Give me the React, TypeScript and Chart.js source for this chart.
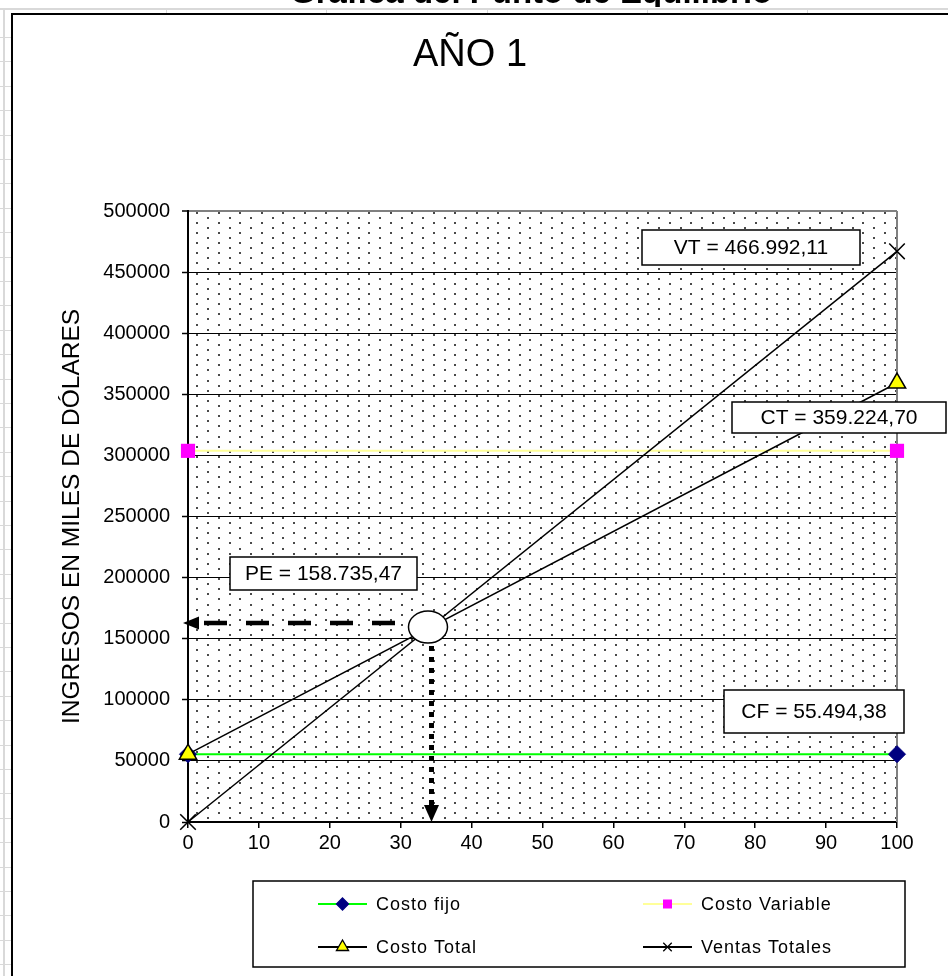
import React, { useEffect, useRef } from 'react';
import { Chart, registerables } from 'chart.js';

Chart.register(...registerables);

// ---------- data ----------
const X_POINTS = [0, 100];
const COSTO_FIJO = [55494.38, 55494.38];
const COSTO_VARIABLE = [303730.32, 303730.32];
const COSTO_TOTAL = [55494.38, 359224.7];
const VENTAS_TOTALES = [0, 466992.11];
const PUNTO_EQUILIBRIO = 158735.47;

const SERIES_NAMES = ['Costo fijo', 'Costo Variable', 'Costo Total', 'Ventas Totales'];
const X_MIN = 0;
const X_MAX = 100;
const X_STEP = 10;
const Y_MIN = 0;
const Y_MAX = 500000;
const Y_STEP = 50000;

const SHEET_TITLE = 'Gráfica del Punto de Equilibrio';
const CHART_TITLE = 'AÑO 1';
const Y_TITLE = 'INGRESOS EN MILES DE DÓLARES';

const FONT = '"Liberation Sans", Arial, Helvetica, sans-serif';

function fmtES(v: number): string {
  const [i, d] = v.toFixed(2).split('.');
  return i.replace(/\B(?=(\d{3})+(?!\d))/g, '.') + ',' + d;
}

const BOX_LABELS = [
  { text: 'VT = ' + fmtES(VENTAS_TOTALES[1]), rect: [642, 230, 218, 35] },
  { text: 'CT = ' + fmtES(COSTO_TOTAL[1]), rect: [732, 402, 214, 31] },
  { text: 'PE = ' + fmtES(PUNTO_EQUILIBRIO), rect: [230, 557, 187, 33] },
  { text: 'CF = ' + fmtES(COSTO_FIJO[1]), rect: [724, 690, 180, 43] },
];

function drawMarker(ctx: CanvasRenderingContext2D, style: string, x: number, y: number, r: number, fill: string, stroke: string, lw: number) {
  ctx.save();
  ctx.fillStyle = fill;
  ctx.strokeStyle = stroke;
  ctx.lineWidth = lw;
  ctx.beginPath();
  if (style === 'rectRot') {
    ctx.moveTo(x, y - r);
    ctx.lineTo(x + r, y);
    ctx.lineTo(x, y + r);
    ctx.lineTo(x - r, y);
    ctx.closePath();
    ctx.fill();
    ctx.stroke();
  } else if (style === 'rect') {
    ctx.rect(x - r, y - r, 2 * r, 2 * r);
    ctx.fill();
  } else if (style === 'triangle') {
    ctx.moveTo(x, y - r);
    ctx.lineTo(x + r * 0.866, y + r / 2);
    ctx.lineTo(x - r * 0.866, y + r / 2);
    ctx.closePath();
    ctx.fill();
    ctx.stroke();
  } else if (style === 'crossRot') {
    const o = r * 0.7071;
    ctx.moveTo(x - o, y - o);
    ctx.lineTo(x + o, y + o);
    ctx.moveTo(x - o, y + o);
    ctx.lineTo(x + o, y - o);
    ctx.stroke();
  }
  ctx.restore();
}

const backgroundPlugin = {
  id: 'sheetBackground',
  beforeDraw(chart: any) {
    const ctx: CanvasRenderingContext2D = chart.ctx;
    const W = chart.width;
    const H = chart.height;
    ctx.save();
    ctx.fillStyle = '#ffffff';
    ctx.fillRect(0, 0, W, H);

    // cut sheet title (only its lowest pixels are visible above the chart object)
    ctx.fillStyle = '#000';
    ctx.font = 'bold 33px ' + FONT;
    ctx.textAlign = 'left';
    ctx.textBaseline = 'alphabetic';
    ctx.fillText(SHEET_TITLE, 290, 2.5);

    // spreadsheet cells behind the chart object
    ctx.fillStyle = '#ffffff';
    ctx.fillRect(0, 7, W, H);
    ctx.strokeStyle = '#d9d9d9';
    ctx.lineWidth = 2;
    ctx.beginPath();
    ctx.moveTo(0, 9);
    ctx.lineTo(W, 9);
    ctx.moveTo(4, 9);
    ctx.lineTo(4, H);
    ctx.stroke();
    ctx.lineWidth = 1;
    ctx.beginPath();
    [166, 326, 487, 647, 807].forEach((x) => {
      ctx.moveTo(x + 0.5, 9);
      ctx.lineTo(x + 0.5, 14);
    });
    for (let y = 37; y < H; y += 24.4) {
      ctx.moveTo(0, Math.round(y) + 0.5);
      ctx.lineTo(11, Math.round(y) + 0.5);
    }
    ctx.stroke();

    // chart object frame
    ctx.fillStyle = '#ffffff';
    ctx.fillRect(12, 14, W, H);
    ctx.strokeStyle = '#000';
    ctx.lineWidth = 2;
    ctx.beginPath();
    ctx.moveTo(12, H);
    ctx.lineTo(12, 14);
    ctx.lineTo(W, 14);
    ctx.stroke();

    // dotted plot-area fill
    const a = chart.chartArea;
    ctx.fillStyle = '#4a4a4a';
    let j = 0;
    for (let y = a.top + 1.6; y < a.bottom - 1; y += 5.09, j++) {
      const start = j % 2 === 1 ? a.left - 1.2 : a.left + 9.3;
      for (let x = start; x < a.right - 1; x += 21.48) {
        if (x < a.left + 2) continue;
        ctx.fillRect(Math.round(x) - 1, Math.round(y) - 1, 2, 2);
      }
    }
    ctx.restore();
  },
  beforeDatasetsDraw(chart: any) {
    const ctx: CanvasRenderingContext2D = chart.ctx;
    const a = chart.chartArea;
    ctx.save();
    ctx.strokeStyle = '#808080';
    ctx.lineWidth = 2;
    ctx.beginPath();
    ctx.moveTo(a.right, a.top);
    ctx.lineTo(a.right, a.bottom);
    ctx.stroke();
    ctx.restore();
  },
};

const annotationPlugin = {
  id: 'breakEvenAnnotations',
  afterDatasetsDraw(chart: any) {
    const ctx: CanvasRenderingContext2D = chart.ctx;
    const xs = chart.scales.x;
    const ys = chart.scales.y;
    const peX = (PUNTO_EQUILIBRIO / VENTAS_TOTALES[1]) * X_POINTS[1];
    const cx = xs.getPixelForValue(peX);
    const cy = ys.getPixelForValue(PUNTO_EQUILIBRIO);
    ctx.save();

    // horizontal dashed arrow to the y axis
    const hy = cy - 5;
    ctx.strokeStyle = '#000';
    ctx.lineWidth = 4.5;
    ctx.lineCap = 'butt';
    ctx.setLineDash([23, 19]);
    ctx.beginPath();
    ctx.moveTo(cx - 34, hy);
    ctx.lineTo(xs.left + 12, hy);
    ctx.stroke();
    ctx.setLineDash([]);
    ctx.fillStyle = '#000';
    ctx.beginPath();
    ctx.moveTo(xs.left - 5, hy);
    ctx.lineTo(xs.left + 11, hy - 6.5);
    ctx.lineTo(xs.left + 11, hy + 6.5);
    ctx.closePath();
    ctx.fill();

    // vertical dotted arrow to the x axis
    const vx = cx + 2.5;
    ctx.lineWidth = 5;
    ctx.setLineDash([5, 6]);
    ctx.beginPath();
    ctx.moveTo(vx, cy + 18);
    ctx.lineTo(vx, ys.bottom - 16);
    ctx.stroke();
    ctx.setLineDash([]);
    ctx.beginPath();
    ctx.moveTo(vx - 7.5, ys.bottom - 17);
    ctx.lineTo(vx + 7.5, ys.bottom - 17);
    ctx.lineTo(vx, ys.bottom);
    ctx.closePath();
    ctx.fill();

    // break-even ellipse
    ctx.beginPath();
    ctx.ellipse(cx - 1, cy - 1, 19.5, 16, 0, 0, Math.PI * 2);
    ctx.fillStyle = '#fff';
    ctx.fill();
    ctx.lineWidth = 1.5;
    ctx.strokeStyle = '#000';
    ctx.stroke();

    // value boxes
    ctx.font = '21px ' + FONT;
    ctx.textAlign = 'center';
    ctx.textBaseline = 'middle';
    BOX_LABELS.forEach((b) => {
      const [x, y, w, h] = b.rect;
      ctx.fillStyle = '#fff';
      ctx.fillRect(x, y, w, h);
      ctx.strokeStyle = '#000';
      ctx.lineWidth = 1.5;
      ctx.strokeRect(x, y, w, h);
      ctx.fillStyle = '#000';
      ctx.fillText(b.text, x + w / 2, y + h / 2 + 1);
    });
    ctx.restore();
  },
  afterDraw(chart: any) {
    // legend box
    const ctx: CanvasRenderingContext2D = chart.ctx;
    const ds = chart.data.datasets;
    ctx.save();
    ctx.fillStyle = '#fff';
    ctx.fillRect(253, 881, 652, 86);
    ctx.strokeStyle = '#000';
    ctx.lineWidth = 1.5;
    ctx.strokeRect(253, 881, 652, 86);
    const slots = [
      [318, 904],
      [643, 904],
      [318, 947],
      [643, 947],
    ];
    const legendRadius = [6, 4.5, 7, 6];
    ctx.font = '18px ' + FONT;
    (ctx as any).letterSpacing = '1px';
    ctx.textAlign = 'left';
    ctx.textBaseline = 'middle';
    ds.forEach((d: any, i: number) => {
      const [lx, ly] = slots[i];
      ctx.strokeStyle = d.borderColor;
      ctx.lineWidth = 2;
      ctx.beginPath();
      ctx.moveTo(lx, ly);
      ctx.lineTo(lx + 49, ly);
      ctx.stroke();
      drawMarker(ctx, d.pointStyle, lx + 24.5, ly, legendRadius[i], d.pointBackgroundColor || '#000', d.pointBorderColor, 1.3);
      ctx.fillStyle = '#000';
      ctx.fillText(d.label, lx + 58, ly + 1);
    });
    ctx.restore();
  },
};

export default function App() {
  const canvasRef = useRef<HTMLCanvasElement | null>(null);

  useEffect(() => {
    document.body.style.margin = '0';
    const canvas = canvasRef.current;
    if (!canvas) return;
    Chart.defaults.font.family = FONT;
    Chart.defaults.color = '#000';

    const toPoints = (ys: number[]) => X_POINTS.map((x, i) => ({ x, y: ys[i] }));

    const chart = new Chart(canvas, {
      type: 'line',
      data: {
        datasets: [
          {
            label: SERIES_NAMES[0],
            data: toPoints(COSTO_FIJO),
            borderColor: '#00FF00',
            borderWidth: 2,
            pointStyle: 'rectRot',
            pointRadius: 8.5,
            pointBackgroundColor: '#000080',
            pointBorderColor: '#000080',
            pointBorderWidth: 1,
            order: 3,
            clip: false,
          },
          {
            label: SERIES_NAMES[1],
            data: toPoints(COSTO_VARIABLE),
            borderColor: '#FFFF99',
            borderWidth: 2,
            pointStyle: 'rect',
            pointRadius: 10,
            pointBackgroundColor: '#FF00FF',
            pointBorderColor: '#FF00FF',
            pointBorderWidth: 0,
            order: 2,
            clip: false,
          },
          {
            label: SERIES_NAMES[2],
            data: toPoints(COSTO_TOTAL),
            borderColor: '#000000',
            borderWidth: 1.5,
            pointStyle: 'triangle',
            pointRadius: 10,
            pointBackgroundColor: '#FFFF00',
            pointBorderColor: '#000000',
            pointBorderWidth: 1.5,
            order: 1,
            clip: false,
          },
          {
            label: SERIES_NAMES[3],
            data: toPoints(VENTAS_TOTALES),
            borderColor: '#000000',
            borderWidth: 1.5,
            pointStyle: 'crossRot',
            pointRadius: 11,
            pointBackgroundColor: '#000000',
            pointBorderColor: '#000000',
            pointBorderWidth: 1.5,
            order: 0,
            clip: false,
          },
        ] as any,
      },
      options: {
        responsive: false,
        animation: false,
        events: [],
        layout: { padding: { left: 43, right: 51, top: 0, bottom: 114 } },
        plugins: {
          legend: { display: false },
          tooltip: { enabled: false },
          title: {
            display: true,
            text: CHART_TITLE,
            color: '#000',
            font: { size: 38, weight: 'normal', family: FONT },
            padding: { top: 32.7, bottom: 132.7 },
          },
        },
        scales: {
          x: {
            type: 'linear',
            min: X_MIN,
            max: X_MAX,
            afterFit: (s: any) => {
              s.height = 40;
            },
            ticks: { stepSize: X_STEP, padding: 3, font: { size: 20 }, color: '#000', maxRotation: 0, callback: (v: any) => String(v) },
            grid: { drawOnChartArea: false, drawTicks: true, tickLength: 6, color: '#000', tickColor: '#000', lineWidth: 1.5 },
            border: { display: true, color: '#000', width: 2 },
          },
          y: {
            type: 'linear',
            min: Y_MIN,
            max: Y_MAX,
            afterFit: (s: any) => {
              s.width = 145;
            },
            ticks: { stepSize: Y_STEP, padding: 12, font: { size: 20 }, color: '#000', callback: (v: any) => String(v) },
            grid: {
              drawOnChartArea: true,
              drawTicks: true,
              tickLength: 6,
              color: (c: any) => (c.tick && c.tick.value === Y_MAX ? '#808080' : '#000'),
              lineWidth: (c: any) => (c.tick && c.tick.value === Y_MAX ? 2 : 1),
              tickColor: '#000',
              tickWidth: 1.5,
            },
            border: { display: true, color: '#000', width: 2 },
            title: {
              display: true,
              text: Y_TITLE,
              color: '#000',
              font: { size: 24.5, family: FONT },
              padding: { top: 15, bottom: 0 },
            },
          },
        },
      } as any,
      plugins: [backgroundPlugin, annotationPlugin],
    });

    return () => {
      chart.destroy();
    };
  }, []);

  return (
    <div style={{ width: 948, height: 976, position: 'relative' }}>
      <canvas ref={canvasRef} width={948} height={976} style={{ display: 'block', width: 948, height: 976 }} />
    </div>
  );
}
